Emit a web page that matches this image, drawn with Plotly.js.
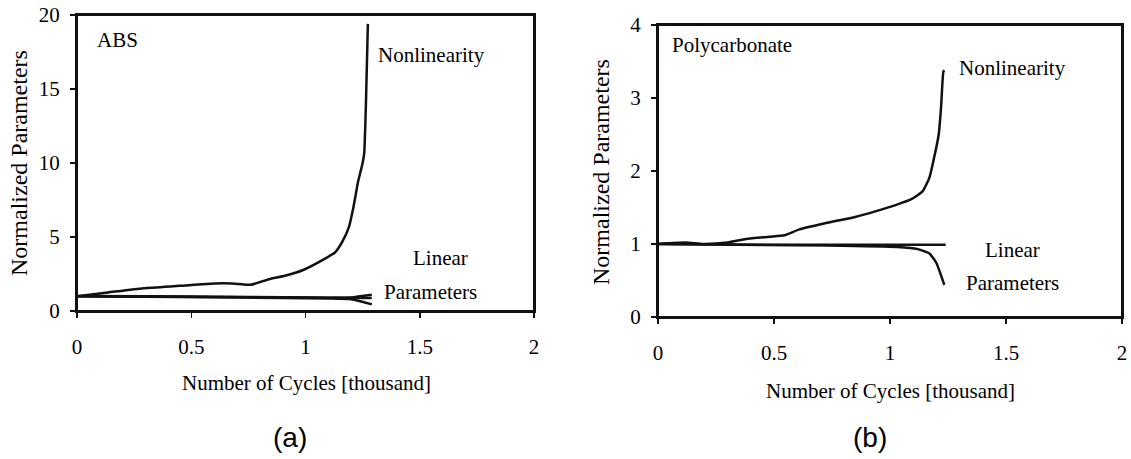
<!DOCTYPE html>
<html>
<head>
<meta charset="utf-8">
<script src="https://cdn.plot.ly/plotly-3.0.1.min.js"></script>
<style>html,body{margin:0;padding:0;background:#fff;}#chart{width:1131px;height:459px;}</style>
</head>
<body>
<div id="chart"></div>
<script>
// ---- Data: (a) ABS ----
const absNonX = [0, 0.135, 0.29, 0.45, 0.60, 0.68, 0.76, 0.84, 0.91, 0.99, 1.07, 1.13, 1.16, 1.19, 1.21, 1.23, 1.25, 1.257, 1.265, 1.273];
const absNonY = [1.0, 1.25, 1.54, 1.7, 1.86, 1.86, 1.77, 2.15, 2.38, 2.77, 3.4, 3.97, 4.65, 5.67, 7.03, 8.73, 10.0, 10.66, 14.3, 19.4];
const absLinX = [0, 0.3, 0.6, 0.9, 1.1, 1.2, 1.29];
const absLin1 = [1.0, 0.98, 0.95, 0.92, 0.9, 0.92, 1.1];
const absLin2 = [1.0, 0.97, 0.93, 0.88, 0.85, 0.8, 0.45];
const absLin3 = [1.02, 0.99, 0.96, 0.93, 0.9, 0.88, 0.88];

// ---- Data: (b) Polycarbonate ----
const pcNonX = [0, 0.12, 0.195, 0.30, 0.38, 0.48, 0.545, 0.61, 0.73, 0.85, 0.94, 1.03, 1.09, 1.14, 1.17, 1.19, 1.21, 1.22, 1.23, 1.234];
const pcNonY = [1.0, 1.02, 1.0, 1.02, 1.07, 1.10, 1.12, 1.2, 1.29, 1.37, 1.45, 1.54, 1.61, 1.72, 1.91, 2.18, 2.5, 2.87, 3.36, 3.38];
const pcLin1X = [0, 0.5, 1.0, 1.24];
const pcLin1Y = [1.0, 0.99, 0.99, 0.99];
const pcLin2X = [0, 0.73, 1.03, 1.12, 1.17, 1.2, 1.22, 1.234];
const pcLin2Y = [1.0, 0.98, 0.96, 0.93, 0.87, 0.74, 0.57, 0.44];

const xTicks = [0, 0.5, 1, 1.5, 2];
const xTickText = ['0', '0.5', '1', '1.5', '2'];
const absYTicks = [0, 5, 10, 15, 20];
const pcYTicks = [0, 1, 2, 3, 4];

const serif = 'Liberation Serif, Times New Roman, serif';
const line = (x, y, xa, ya) => ({x: x, y: y, xaxis: xa, yaxis: ya, type: 'scatter', mode: 'lines',
  line: {color: '#111', width: 2.5, shape: 'spline', smoothing: 0.5}, hoverinfo: 'skip', showlegend: false});

const traces = [
  line(absNonX, absNonY, 'x', 'y'),
  line(absLinX, absLin1, 'x', 'y'),
  line(absLinX, absLin2, 'x', 'y'),
  line(absLinX, absLin3, 'x', 'y'),
  line(pcNonX, pcNonY, 'x2', 'y2'),
  line(pcLin1X, pcLin1Y, 'x2', 'y2'),
  line(pcLin2X, pcLin2Y, 'x2', 'y2')
];

const axBase = {showgrid: false, zeroline: false, showline: true, mirror: true, linecolor: '#111', linewidth: 2,
  ticks: 'outside', ticklen: 5, tickwidth: 1.5, tickcolor: '#111', tickfont: {family: serif, size: 21, color: '#000'}};

const W = 1131, H = 459;
const txt = (o) => Object.assign({showarrow: false, xanchor: 'center', yanchor: 'middle', font: {family: serif, size: 21, color: '#000'}}, o);
const box = (xr, yr) => ({type: 'rect', xref: xr + ' domain', yref: yr + ' domain', x0: 0, x1: 1, y0: 0, y1: 1,
  line: {color: '#111', width: 2}, fillcolor: 'rgba(0,0,0,0)', layer: 'above'});

const layout = {
  width: W, height: H, margin: {l: 0, r: 0, t: 0, b: 0}, paper_bgcolor: '#fff', plot_bgcolor: '#fff',
  xaxis: Object.assign({}, axBase, {domain: [77 / W, 534 / W], range: [0, 2], tickvals: xTicks, ticktext: xTickText, anchor: 'y', ticklabelstandoff: 11}),
  yaxis: Object.assign({}, axBase, {domain: [1 - 311 / H, 1 - 15 / H], range: [0, 20], tickvals: absYTicks, anchor: 'x', ticklabelstandoff: 6}),
  xaxis2: Object.assign({}, axBase, {domain: [658 / W, 1122 / W], range: [0, 2], tickvals: xTicks, ticktext: xTickText, anchor: 'y2', ticklabelstandoff: 11}),
  yaxis2: Object.assign({}, axBase, {domain: [1 - 317 / H, 1 - 25 / H], range: [0, 4], tickvals: pcYTicks, anchor: 'x2', ticklabelstandoff: 6}),
  shapes: [box('x', 'y'), box('x2', 'y2')],
  annotations: [
    txt({xref: 'x', yref: 'y', x: 0.08, y: 18.3, text: 'ABS', xanchor: 'left'}),
    txt({xref: 'x', yref: 'y', x: 1.31, y: 17.3, text: 'Nonlinearity', xanchor: 'left'}),
    txt({xref: 'x', yref: 'y', x: 1.59, y: 3.6, text: 'Linear'}),
    txt({xref: 'x', yref: 'y', x: 1.545, y: 1.3, text: 'Parameters'}),
    txt({xref: 'x2', yref: 'y2', x: 0.05, y: 3.73, text: 'Polycarbonate', xanchor: 'left'}),
    txt({xref: 'x2', yref: 'y2', x: 1.29, y: 3.41, text: 'Nonlinearity', xanchor: 'left'}),
    txt({xref: 'x2', yref: 'y2', x: 1.53, y: 0.92, text: 'Linear'}),
    txt({xref: 'x2', yref: 'y2', x: 1.53, y: 0.47, text: 'Parameters'}),
    txt({xref: 'paper', yref: 'paper', x: 306 / W, y: 1 - 383 / H, text: 'Number of Cycles [thousand]'}),
    txt({xref: 'paper', yref: 'paper', x: 890 / W, y: 1 - 391 / H, text: 'Number of Cycles [thousand]'}),
    txt({xref: 'paper', yref: 'paper', x: 19 / W, y: 1 - 163 / H, text: 'Normalized Parameters', textangle: -90, font: {family: serif, size: 24, color: '#000'}}),
    txt({xref: 'paper', yref: 'paper', x: 601 / W, y: 1 - 172 / H, text: 'Normalized Parameters', textangle: -90, font: {family: serif, size: 24, color: '#000'}}),
    txt({xref: 'paper', yref: 'paper', x: 290 / W, y: 1 - 437 / H, text: '(a)', font: {family: 'Liberation Sans, Arial, sans-serif', size: 28, color: '#000'}}),
    txt({xref: 'paper', yref: 'paper', x: 870 / W, y: 1 - 437 / H, text: '(b)', font: {family: 'Liberation Sans, Arial, sans-serif', size: 28, color: '#000'}})
  ]
};

Plotly.newPlot('chart', traces, layout, {displayModeBar: false, staticPlot: true});
</script>
</body>
</html>
